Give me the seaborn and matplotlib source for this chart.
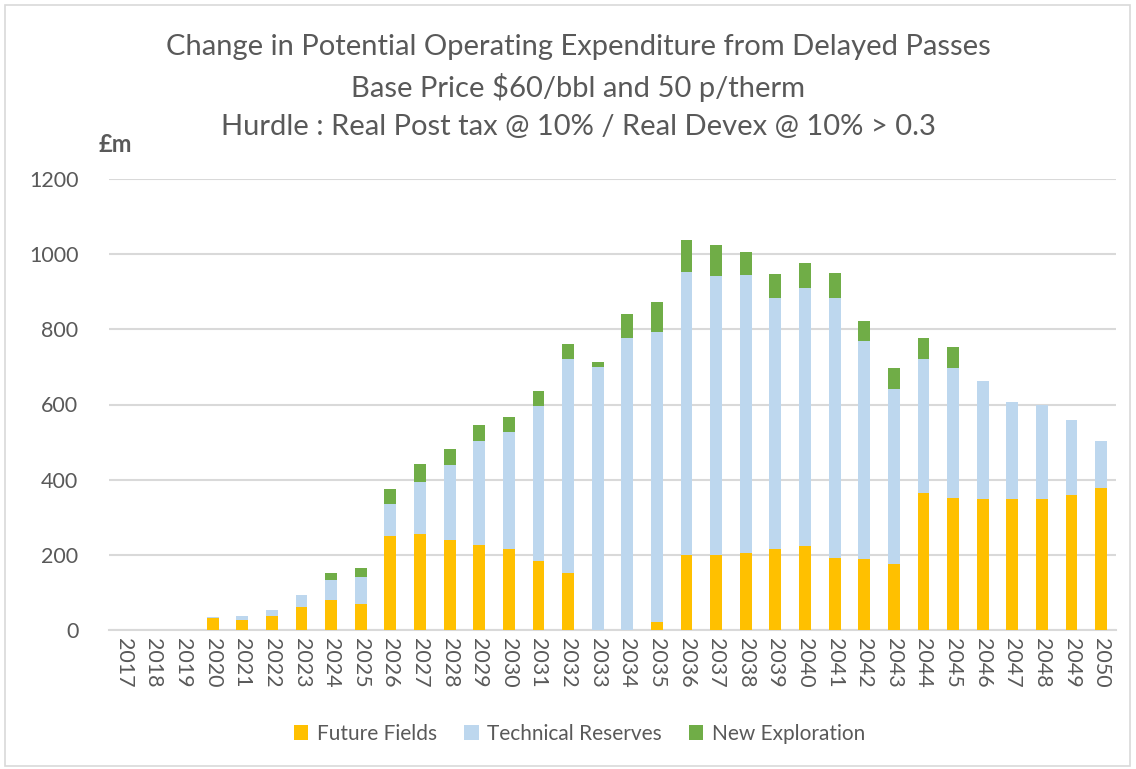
import matplotlib
matplotlib.use("Agg")
import matplotlib.pyplot as plt
import seaborn as sns
import pandas as pd
import numpy as np
from matplotlib.patches import Patch, Rectangle

years = [str(y) for y in range(2017, 2051)]
future_fields = [0, 0, 0, 32, 27, 38, 62, 79, 69, 250, 256, 239, 226, 216, 184, 151, 0, 0, 22,
                 199, 199, 206, 216, 223, 192, 189, 175, 365, 352, 349, 349, 349, 359, 377]
technical_reserves = [0, 0, 0, 3, 11, 14, 30, 54, 71, 86, 139, 201, 278, 312, 413, 571, 699, 778, 770,
                      753, 742, 739, 668, 688, 692, 579, 467, 355, 345, 313, 258, 250, 201, 125]
new_exploration = [0, 0, 0, 0, 0, 0, 0, 18, 25, 39, 46, 41, 42, 38, 38, 39, 14, 62, 82,
                   85, 83, 62, 62, 65, 65, 55, 55, 58, 57, 0, 0, 0, 0, 0]
series_names = ["Future Fields", "Technical Reserves", "New Exploration"]
colors = ["#FFC000", "#BDD7EE", "#70AD47"]
title_lines = ["Change in Potential Operating Expenditure from Delayed Passes",
               "Base Price $60/bbl and 50 p/therm",
               "Hurdle : Real Post tax @ 10% / Real Devex @ 10% > 0.3"]

sns.set_theme(style="white")
plt.rcParams['font.family'] = ['Lato', 'DejaVu Sans']
text_color = "#595959"

df = pd.DataFrame({"year": years, "ff": future_fields, "tr": technical_reserves, "ne": new_exploration})
df["c1"] = df["ff"]
df["c2"] = df["ff"] + df["tr"]
df["c3"] = df["c2"] + df["ne"]

fig = plt.figure(figsize=(11.36, 7.69), dpi=100)
ax = fig.add_axes([109/1136, 1 - 630/769, (1116 - 109)/1136, (630 - 179)/769])

for col, color in zip(["c3", "c2", "c1"], [colors[2], colors[1], colors[0]]):
    sns.barplot(data=df, x="year", y=col, order=years, color=color, width=0.4,
                saturation=1, ax=ax, edgecolor="none", linewidth=0, zorder=3)

ax.set_ylim(0, 1200)
ax.set_xlim(-0.5, len(years) - 0.5)
ax.set_yticks(range(0, 1201, 200))
ax.yaxis.grid(True, color="#D9D9D9", linewidth=1.5, zorder=0)
ax.xaxis.grid(False)
ax.set_axisbelow(True)
for s in ["top", "right", "left"]:
    ax.spines[s].set_visible(False)
ax.spines["bottom"].set_color("#D9D9D9")
ax.spines["bottom"].set_linewidth(1.5)
ax.set_xlabel("")
ax.set_ylabel("")
ax.tick_params(axis="y", length=0, pad=22, labelsize=15.5, labelcolor=text_color)
ax.tick_params(axis="x", length=0, pad=6, labelsize=15.5, labelcolor=text_color)
plt.setp(ax.get_xticklabels(), rotation=270, va="top", ha="center")

for i, line in enumerate(title_lines):
    fig.text(0.5 + 10/1136, 1 - (47 + 40*i)/769, line, ha="center", va="center",
             fontsize=21, color=text_color)

fig.text(115/1136, 1 - 145/769, "£m", ha="center", va="center", fontsize=17,
         fontweight="bold", color=text_color)

handles = [Patch(facecolor=c, edgecolor="none") for c in colors]
fig.legend(handles, series_names, loc="center", bbox_to_anchor=(0.51, 1 - 734/769), ncol=3,
           frameon=False, fontsize=15, labelcolor=text_color, handlelength=0.7,
           handleheight=0.7, handletextpad=0.4, columnspacing=1.3)

fig.patches.append(Rectangle((5/1136, 3/769), 1 - 11/1136, 1 - 8/769, transform=fig.transFigure,
                             fill=False, edgecolor="#D9D9D9", linewidth=1.2))

fig.savefig("out.png", dpi=100)
